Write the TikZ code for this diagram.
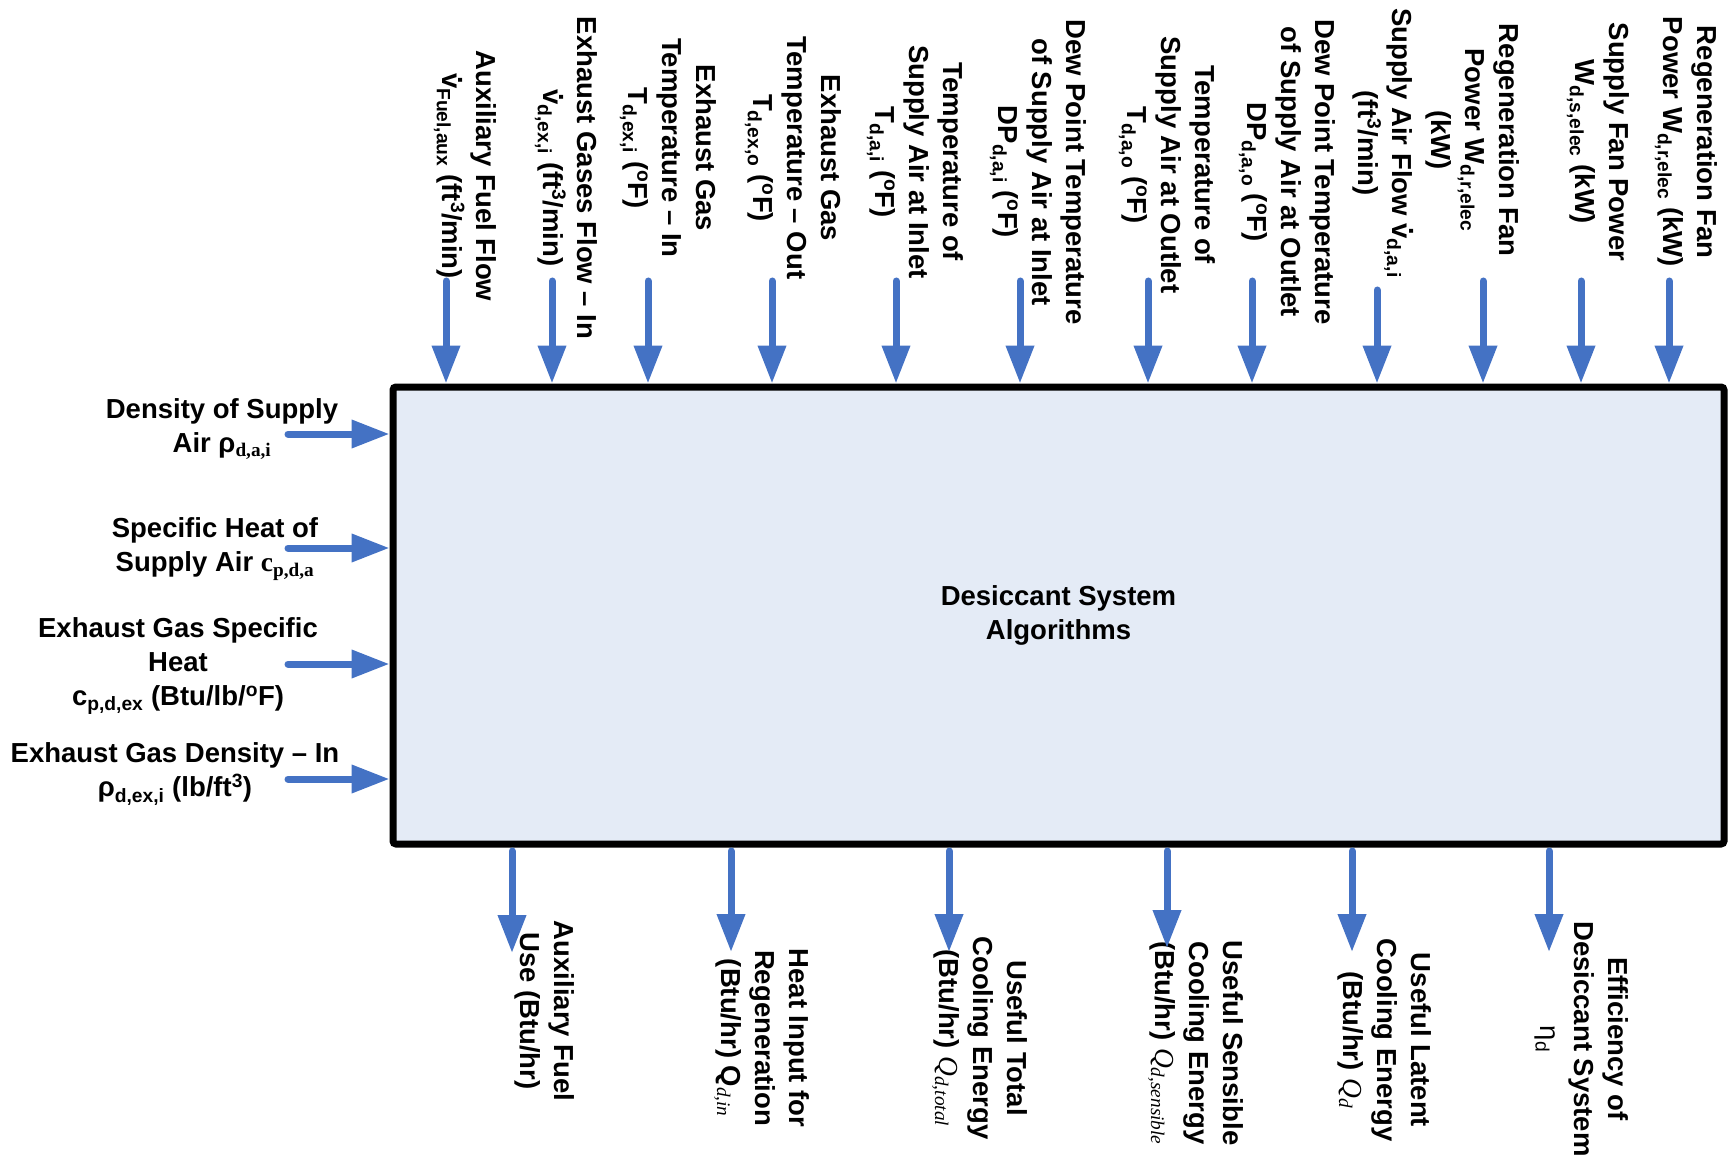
\documentclass[tikz,border=0pt]{standalone}
\usepackage{fontspec}
\setmainfont{Liberation Sans}
\newfontfamily\tms{Liberation Serif}
\usetikzlibrary{arrows.meta}
\definecolor{arrowblue}{RGB}{68,114,196}
\definecolor{boxfill}{RGB}{228,235,246}
% sub- and superscripts
\newcommand\lo[1]{\textsubscript{#1}}
\newcommand\hi[1]{\textsuperscript{#1}}
% volumetric flow: v with a dot above
\newcommand\vdot{\leavevmode\rlap{\hspace{0.139em}\raisebox{0.6em}{.}}v}
% degrees Fahrenheit
\newcommand\degF{(\hi{o}F)}
% italic serif heat symbol
\newcommand\qit[1]{{\tms\mdseries\itshape Q\lo{#1}}}
\begin{document}
\begin{tikzpicture}[x=1pt,y=-1pt,
  lbl/.style={font=\fontsize{27.5}{34}\selectfont\bfseries, align=center, inner sep=0pt},
  vlbl/.style={lbl, rotate=-90},
  flow/.style={draw=arrowblue, line width=7pt, line cap=round,
    -{Triangle[width=27pt,length=38pt]}},
  outflow/.style={flow, shorten <=3.5pt}]
\useasboundingbox (0,0) rectangle (1732,1158);

% central block
\node[lbl, draw, line width=7pt, rounded corners=3pt, fill=boxfill,
  minimum width=1331pt, minimum height=457pt] (sys) at (1058.5,615.5)
  {Desiccant System\\Algorithms};

% inputs from above
\node[vlbl] (t1lab) at (465,176) {Auxiliary Fuel Flow\\\vdot\lo{Fuel,aux} (ft\hi{3}/min)};
\node[vlbl] (t2lab) at (566,178) {Exhaust Gases Flow -- In\\\vdot\lo{d,ex,i} (ft\hi{3}/min)};
\node[vlbl] (t3lab) at (668,148) {Exhaust Gas\\Temperature -- In\\T\lo{d,ex,i} \degF};
\node[vlbl] (t4lab) at (793,158) {Exhaust Gas\\Temperature -- Out\\T\lo{d,ex,o} \degF};
\node[vlbl] (t5lab) at (915,162) {Temperature of\\Supply Air at Inlet\\T\lo{d,a,i} \degF};
\node[vlbl] (t6lab) at (1038,172) {Dew Point Temperature\\of Supply Air at Inlet\\DP\lo{d,a,i} \degF};
\node[vlbl] (t7lab) at (1167,165) {Temperature of\\Supply Air at Outlet\\T\lo{d,a,o} \degF};
\node[vlbl] (t8lab) at (1287,172) {Dew Point Temperature\\of Supply Air at Outlet\\DP\lo{d,a,o} \degF};
\node[vlbl] (t9lab) at (1383,143) {Supply Air Flow \vdot\lo{d,a,i}\\(ft\hi{3}/min)};
\node[vlbl] (t10lab) at (1473,140) {Regeneration Fan\\Power W\lo{d,r,elec}\\(kW)};
\node[vlbl] (t11lab) at (1598,142) {Supply Fan Power\\W\lo{d,s,elec} (kW)};
\node[vlbl] (t12lab) at (1686,142) {Regeneration Fan\\Power W\lo{d,r,elec} (kW)};

\coordinate (t1) at (446,281);
\coordinate (t2) at (552,281);
\coordinate (t3) at (648,281);
\coordinate (t4) at (772,281);
\coordinate (t5) at (896,281);
\coordinate (t6) at (1020,281);
\coordinate (t7) at (1148,281);
\coordinate (t8) at (1252,281);
\coordinate (t9) at (1377,290);
\coordinate (t10) at (1483,281);
\coordinate (t11) at (1581,281);
\coordinate (t12) at (1669,281);
\foreach \k in {1,...,12}{
  \draw[flow] (t\k) -- (t\k |- sys.north);
}

% inputs from the left
\node[lbl] (l1lab) at (222,429) {Density of Supply\\Air ρ{\tms\lo{d,a,i}}};
\node[lbl] (l2lab) at (215,549) {Specific Heat of\\Supply Air {\tms c\lo{p,d,a}}};
\node[lbl] (l3lab) at (178,666) {Exhaust Gas Specific\\Heat\\c\lo{p,d,ex} (Btu/lb/\hi{o}F)};
\node[lbl] (l4lab) at (175,774) {Exhaust Gas Density -- In\\ρ\lo{d,ex,i} (lb/ft\hi{3})};

\coordinate (l1) at (288,434);
\coordinate (l2) at (288,548);
\coordinate (l3) at (288,664);
\coordinate (l4) at (288,779);
\foreach \k in {1,...,4}{
  \draw[flow] (l\k) -- (l\k -| sys.west);
}

% outputs below
\node[vlbl] (b1lab) at (545,1011) {Auxiliary Fuel\\Use (Btu/hr)};
\node[vlbl] (b2lab) at (762,1038) {Heat Input for\\Regeneration\\(Btu/hr) Q{\tms\mdseries\itshape\lo{d,in}}};
\node[vlbl] (b3lab) at (980,1038) {Useful Total\\Cooling Energy\\(Btu/hr) \qit{d,total}};
\node[vlbl] (b4lab) at (1196,1043) {Useful Sensible\\Cooling Energy\\(Btu/hr) \qit{d,sensible}};
\node[vlbl] (b5lab) at (1385,1040) {Useful Latent\\Cooling Energy\\(Btu/hr) \qit{d}};
\node[vlbl] (b6lab) at (1582,1039) {Efficiency of\\Desiccant System\\{\mdseries η\lo{d}}};

\coordinate (b1) at (512,953);
\coordinate (b2) at (731,952);
\coordinate (b3) at (949,952);
\coordinate (b4) at (1167,948);
\coordinate (b5) at (1352,952);
\coordinate (b6) at (1549,952);
\foreach \k in {1,...,6}{
  \draw[outflow] (b\k |- sys.south) -- (b\k);
}
\end{tikzpicture}
\end{document}
